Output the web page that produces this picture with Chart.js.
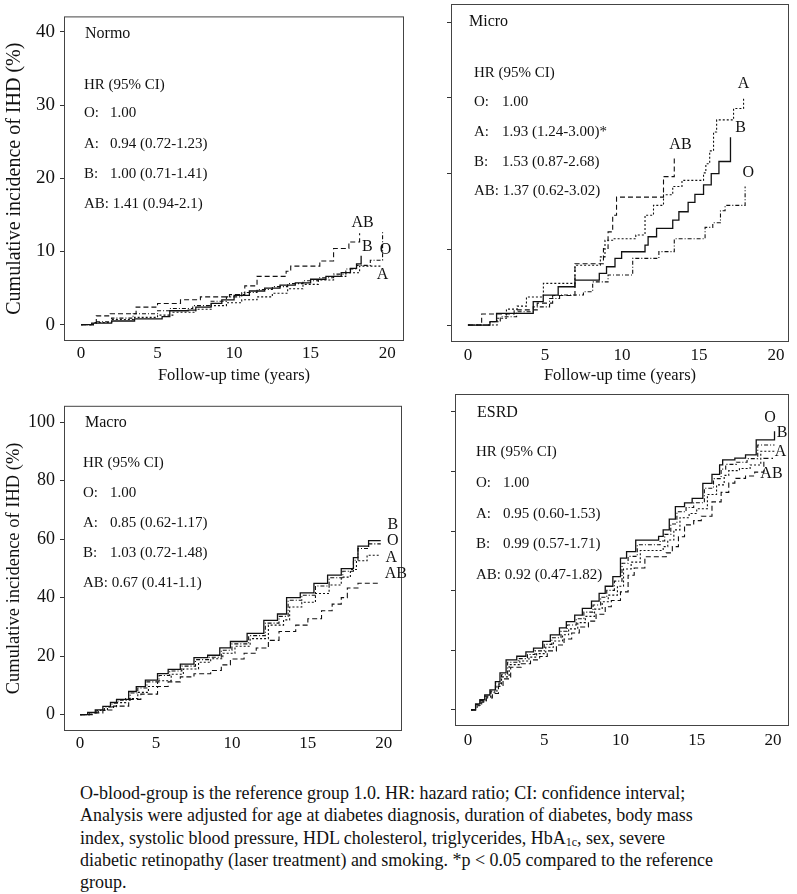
<!DOCTYPE html>
<html lang="en">
<head>
  <meta charset="UTF-8" />
  <title>Cumulative incidence of IHD by ABO blood group</title>
  <script src="https://cdn.jsdelivr.net/npm/chart.js@4"></script>
  <style>
    body { margin: 0; background: #fff; width: 797px; height: 894px; position: relative; overflow: hidden;
           font-family: "Liberation Serif", "Times New Roman", serif; color: #111; }
    canvas { position: absolute; }
    #note { position: absolute; left: 80px; top: 782px; font-size: 18px; line-height: 22.3px; white-space: nowrap; }
    #note sub { font-size: 12px; vertical-align: -2px; line-height: 0; }
  </style>
</head>
<body>

  <canvas id="normo" width="410" height="390" style="left:0;top:0"></canvas>
  <canvas id="micro" width="387" height="390" style="left:410px;top:0"></canvas>
  <canvas id="macro" width="410" height="380" style="left:0;top:390px"></canvas>
  <canvas id="esrd" width="387" height="380" style="left:410px;top:390px"></canvas>

  <div id="note">
    O-blood-group is the reference group 1.0. HR: hazard ratio; CI: confidence interval;<br>
    Analysis were adjusted for age at diabetes diagnosis, duration of diabetes, body mass<br>
    index, systolic blood pressure, HDL cholesterol, triglycerides, HbA<sub>1c</sub>, sex, severe<br>
    diabetic retinopathy (laser treatment) and smoking. *p &lt; 0.05 compared to the reference<br>
    group.
  </div>

  <script>
    // ticks
    const xTicks = [0, 5, 10, 15, 20];
    const yTicksLow = [0, 10, 20, 30, 40];
    const yTicksHigh = [0, 20, 40, 60, 80, 100];
    const groups = ["O", "A", "B", "AB"];

    // Normo - follow-up years / cumulative incidence (%)
    const normoO_t = [0, 0.9, 2.0, 3.4, 5.0, 5.8, 7.3, 8.5, 9.5, 10.5, 11.5, 12.5, 13.5, 14.5, 15.5, 16.5, 17.3, 18.0, 18.9, 19.7];
    const normoO_v = [0, 0.4, 0.9, 1.5, 1.9, 2.2, 2.6, 3.2, 3.8, 4.4, 4.8, 5.2, 5.6, 6.0, 6.4, 6.9, 7.6, 8.1, 8.8, 12.7];
    const normoA_t = [0, 0.8, 2.0, 3.5, 5.0, 6.0, 7.5, 8.5, 9.5, 10.5, 11.5, 12.5, 13.5, 14.5, 15.5, 16.5, 17.3, 18.2, 19.6];
    const normoA_v = [0, 0.3, 0.7, 1.0, 1.3, 1.7, 2.1, 2.6, 3.0, 3.4, 3.8, 4.3, 4.9, 5.5, 6.1, 6.6, 7.1, 8.0, 8.0];
    const normoB_t = [0, 0.7, 2.0, 3.5, 5.3, 5.8, 7.0, 7.5, 8.5, 9.2, 10.0, 11.0, 12.0, 13.0, 14.0, 15.0, 16.0, 17.0, 17.6, 18.0, 18.3];
    const normoB_v = [0, 0.2, 0.5, 0.8, 1.1, 1.9, 2.0, 2.4, 2.9, 3.4, 4.0, 4.6, 5.0, 5.4, 5.7, 6.2, 6.6, 7.1, 7.7, 8.3, 9.4];
    const normoAB_t = [0, 1.0, 1.9, 3.6, 5.0, 6.5, 7.8, 9.7, 10.7, 11.5, 13.4, 13.7, 15.6, 16.5, 17.5, 18.2];
    const normoAB_v = [0, 1.2, 1.5, 2.4, 2.9, 3.4, 3.8, 4.1, 5.3, 6.6, 7.3, 8.0, 8.7, 10.4, 11.3, 12.5];
    const normoHR = ["1.00", "0.94 (0.72-1.23)", "1.00 (0.71-1.41)", "1.41 (0.94-2.1)"];
    const normoLab = ["AB", "B", "O", "A"];
    const normoLabT = [18.4, 18.7, 19.9, 19.7];
    const normoLabV = [13.9, 10.6, 10.2, 6.8];

    // Micro
    const microO_t = [0, 1.43, 2.1, 3.16, 4.24, 5.3, 5.95, 7.5, 8.1, 9.1, 10.7, 12.4, 13.4, 15.4, 15.9, 16.4, 16.7, 18.0];
    const microO_v = [0, 0.44, 1.1, 1.76, 2.4, 3.5, 3.96, 4.4, 5.7, 6.6, 8.8, 9.7, 11.4, 12.9, 13.5, 15.1, 15.8, 18.3];
    const microA_t = [0, 1.9, 2.5, 3.2, 3.8, 4.9, 6.95, 8.6, 8.9, 9.45, 10.9, 11.5, 12.05, 12.7, 13.3, 13.9, 15.3, 15.45, 15.7, 15.95, 16.15, 17.25, 17.9];
    const microA_v = [0, 0.9, 2.1, 2.5, 3.7, 5.5, 7.9, 9.0, 11.2, 11.4, 11.9, 14.5, 15.8, 17.2, 18.3, 19.1, 20.1, 21.3, 23.0, 25.5, 27.1, 28.6, 29.9];
    const microB_t = [0, 1.43, 1.86, 4.24, 4.89, 5.86, 6.95, 8.53, 9.0, 9.55, 9.98, 11.5, 11.7, 12.25, 13.3, 13.7, 14.3, 14.74, 15.3, 15.8, 16.3, 17.05];
    const microB_v = [0, 0.44, 1.54, 3.08, 3.96, 5.06, 5.94, 6.82, 7.7, 8.8, 9.68, 10.56, 11.66, 12.76, 13.86, 14.96, 16.2, 17.25, 18.5, 20.0, 21.6, 24.8];
    const microAB_t = [0, 0.89, 3.0, 4.5, 5.5, 6.95, 8.8, 9.1, 9.4, 9.65, 12.7, 13.4];
    const microAB_v = [0, 1.45, 2.0, 2.9, 3.9, 8.1, 10.1, 12.3, 14.5, 16.9, 19.6, 22.0];
    const microHR = ["1.00", "1.93 (1.24-3.00)*", "1.53 (0.87-2.68)", "1.37 (0.62-3.02)"];
    const microLab = ["A", "B", "AB", "O"];
    const microLabT = [17.9, 17.7, 13.8, 18.2];
    const microLabV = [31.9, 26.1, 23.8, 20.1];

    // Macro
    const macroO_t = [0, 0.6, 1.1, 1.6, 2.1, 2.5, 3.3, 3.8, 4.4, 5.2, 5.9, 6.7, 7.6, 8.5, 9.3, 10.0, 11.1, 12.2, 13.1, 13.7, 14.6, 15.5, 16.4, 17.3, 18.0, 18.3, 19.0, 19.8];
    const macroO_v = [0, 0.7, 1.4, 2.6, 3.9, 4.9, 7.4, 9.1, 11.2, 13.4, 14.9, 16.6, 18.8, 19.6, 22.0, 24.2, 27.0, 31.3, 33.6, 39.1, 40.8, 44.0, 46.8, 49.0, 52.8, 56.8, 58.4, 58.4];
    const macroA_t = [0, 0.6, 1.2, 1.8, 2.4, 3.0, 3.8, 4.5, 5.1, 6.0, 6.8, 7.8, 8.6, 9.4, 10.2, 11.2, 12.4, 13.4, 13.8, 14.6, 15.5, 16.4, 17.2, 17.8, 18.2, 18.9, 19.8];
    const macroA_v = [0, 0.6, 1.5, 2.7, 4.1, 5.5, 7.6, 9.6, 11.6, 13.8, 15.6, 17.9, 19.1, 21.0, 23.4, 26.0, 30.6, 32.4, 36.8, 38.4, 41.4, 44.3, 47.0, 49.6, 52.6, 54.5, 54.5];
    const macroB_t = [0, 0.5, 1.0, 1.5, 2.0, 2.4, 3.2, 3.7, 4.3, 5.1, 5.8, 6.6, 7.5, 8.4, 9.2, 9.9, 11.0, 12.1, 13.0, 13.6, 14.5, 15.4, 16.3, 17.2, 18.0, 18.3, 19.0, 19.8];
    const macroB_v = [0, 0.8, 1.6, 2.8, 4.2, 5.2, 7.9, 9.6, 11.8, 14.0, 15.5, 17.3, 19.5, 20.3, 22.8, 25.0, 27.8, 32.2, 34.4, 40.0, 41.6, 44.9, 47.7, 49.9, 53.7, 57.6, 59.5, 59.5];
    const macroAB_t = [0, 0.8, 1.5, 2.2, 3.2, 4.0, 5.1, 5.8, 6.6, 7.5, 8.6, 9.3, 9.9, 10.8, 11.6, 12.4, 13.1, 14.2, 15.0, 15.9, 16.6, 17.2, 17.6, 18.3, 19.8];
    const macroAB_v = [0, 0.6, 1.6, 2.9, 5.2, 7.0, 9.6, 11.2, 12.9, 14.0, 15.1, 17.0, 19.0, 21.0, 22.8, 25.4, 28.4, 30.6, 32.8, 35.5, 37.8, 40.0, 43.3, 44.9, 44.9];
    const macroHR = ["1.00", "0.85 (0.62-1.17)", "1.03 (0.72-1.48)", "0.67 (0.41-1.1)"];
    const macroLab = ["B", "O", "A", "AB"];
    const macroLabT = [20.6, 20.6, 20.5, 20.8];
    const macroLabV = [64.8, 59.3, 53.7, 48.2];

    // ESRD
    const esrdO_t = [0.2, 0.5, 0.8, 1.1, 1.5, 1.8, 2.2, 2.6, 3.3, 3.9, 4.4, 5.0, 5.5, 6.1, 6.5, 7.1, 7.6, 8.2, 8.7, 9.1, 9.6, 10.1, 10.5, 11.1, 12.6, 12.9, 13.3, 13.7, 14.3, 14.8, 15.5, 16.1, 16.6, 16.9, 17.6, 18.3, 19.0, 20.1];
    const esrdO_v = [0, 1.8, 3.1, 4.6, 6.3, 9.0, 11.8, 16.0, 17.2, 18.6, 19.8, 22.0, 24.2, 26.4, 28.5, 30.6, 32.8, 35.2, 37.8, 40.1, 43.2, 49.2, 51.5, 55.4, 56.7, 58.9, 62.4, 66.5, 67.9, 69.5, 74.4, 77.6, 80.8, 82.4, 83.1, 84.3, 88.9, 88.9];
    const esrdA_t = [0.2, 0.5, 0.8, 1.2, 1.5, 1.9, 2.2, 2.7, 3.4, 4.0, 4.5, 5.1, 5.6, 6.2, 6.6, 7.2, 7.7, 8.3, 8.8, 9.2, 9.8, 10.2, 10.7, 11.3, 12.8, 13.1, 13.5, 13.9, 14.5, 15.0, 15.7, 16.3, 16.8, 17.1, 17.8, 18.5, 19.2, 20.1];
    const esrdA_v = [0, 1.6, 2.9, 4.3, 5.9, 8.4, 11.1, 15.2, 16.4, 17.7, 18.9, 21.0, 23.1, 25.2, 27.2, 29.3, 31.4, 33.8, 36.3, 38.5, 41.5, 47.3, 49.6, 53.5, 54.8, 57.0, 60.4, 64.5, 65.9, 67.5, 72.3, 75.5, 78.7, 80.3, 81.0, 82.2, 86.8, 86.8];
    const esrdB_t = [0.2, 0.5, 0.78, 1.1, 1.44, 1.8, 2.1, 2.5, 3.2, 3.8, 4.3, 4.9, 5.4, 6.0, 6.45, 7.0, 7.5, 8.1, 8.6, 9.0, 9.5, 10.0, 10.4, 11.0, 12.5, 12.8, 13.2, 13.6, 14.2, 14.7, 15.4, 16.0, 16.5, 16.7, 17.5, 18.2, 18.9, 20.1];
    const esrdB_v = [0, 2.0, 3.4, 5.0, 6.7, 9.5, 12.4, 16.8, 18.0, 19.5, 20.7, 23.0, 25.2, 27.5, 29.6, 31.8, 34.1, 36.5, 39.1, 41.5, 44.7, 50.9, 53.1, 57.0, 58.2, 60.4, 64.0, 68.2, 69.5, 71.0, 76.0, 79.0, 82.2, 83.9, 84.5, 85.6, 90.6, 93.5];
    const esrdAB_t = [0.2, 0.6, 0.9, 1.2, 1.6, 2.0, 2.3, 2.8, 3.5, 4.1, 4.7, 5.2, 5.8, 6.3, 6.8, 7.3, 7.9, 8.4, 9.0, 9.4, 10.0, 10.5, 10.9, 11.6, 13.0, 13.4, 13.8, 14.2, 14.8, 15.3, 16.0, 16.6, 17.1, 17.5, 18.2, 18.8, 19.4, 20.0];
    const esrdAB_v = [0, 1.4, 2.6, 4.0, 5.5, 7.9, 10.4, 14.3, 15.5, 16.8, 17.9, 19.8, 21.8, 23.8, 25.8, 27.8, 29.8, 32.1, 34.6, 36.7, 39.6, 45.2, 47.6, 51.4, 52.7, 54.8, 58.1, 62.1, 63.5, 65.0, 69.8, 73.0, 76.1, 77.7, 78.5, 79.8, 84.4, 84.4];
    const esrdHR = ["1.00", "0.95 (0.60-1.53)", "0.99 (0.57-1.71)", "0.92 (0.47-1.82)"];
    const esrdLab = ["O", "B", "A", "AB"];
    const esrdLabT = [19.8, 20.6, 20.5, 19.9];
    const esrdLabV = [98, 93, 86.6, 79.2];

    Chart.defaults.font.family = '"Liberation Serif", "Times New Roman", serif';
    Chart.defaults.color = "#111";

    const dashes = { O: [4, 2, 1, 2], A: [2, 2], B: [], AB: [5, 3] };
    const serif = '"Liberation Serif", "Times New Roman", serif';

    // box, panel caption, HR block and curve labels
    const panelText = {
      id: "panelText",
      afterDraw(chart, args, o) {
        const { ctx, chartArea: a } = chart;
        const xs = chart.scales.x, ys = chart.scales.y;
        ctx.save();
        ctx.strokeStyle = "#444";
        ctx.lineWidth = 1;
        ctx.strokeRect(a.left + 0.5, a.top + 0.5, a.right - a.left - 1, a.bottom - a.top - 1);
        ctx.fillStyle = "#111";
        ctx.textBaseline = "middle";
        ctx.textAlign = "left";
        ctx.font = "16px " + serif;
        ctx.fillText(o.title, a.left + o.titleX, a.top + o.rows[0]);
        ctx.font = "15px " + serif;
        ctx.fillText("HR (95% CI)", a.left + o.hrX, a.top + o.rows[1]);
        groups.forEach((g, i) => {
          const yy = a.top + o.rows[i + 2];
          if (g.length > 1) {
            // two-letter group: value follows the label directly
            ctx.fillText(g + ": " + o.hr[i], a.left + o.hrX, yy);
          } else {
            ctx.fillText(g + ":", a.left + o.hrX, yy);
            ctx.fillText(o.hr[i], a.left + o.valX, yy);
          }
        });
        ctx.font = "16px " + serif;
        ctx.textAlign = "center";
        o.lab.forEach((s, i) => {
          ctx.fillText(s, xs.getPixelForValue(o.labT[i]), ys.getPixelForValue(o.labV[i]));
        });
        ctx.restore();
      }
    };

    function makePanel(id, p) {
      const datasets = groups.map((g, i) => ({
        label: g,
        data: p.t[i].map((x, k) => ({ x: x, y: p.v[i][k] })),
        borderColor: "#111",
        borderWidth: g === "B" ? 1.3 : 1.1,
        borderDash: dashes[g],
        stepped: true,
        pointRadius: 0,
        fill: false
      }));

      new Chart(document.getElementById(id), {
        type: "line",
        data: { datasets },
        options: {
          responsive: false,
          animation: false,
          devicePixelRatio: 1,
          layout: { padding: p.pad },
          plugins: {
            legend: { display: false },
            tooltip: { enabled: false },
            panelText: { title: p.title, hr: p.hr, rows: p.rows, titleX: p.titleX, hrX: p.hrX, valX: p.valX,
                         lab: p.lab, labT: p.labT, labV: p.labV }
          },
          scales: {
            x: {
              type: "linear",
              min: p.xMin, max: p.xMax,
              afterBuildTicks: s => { s.ticks = xTicks.map(v => ({ value: v })); },
              afterFit: s => { s.height = p.xH; },
              grid: { display: false, drawTicks: false },
              border: { display: false },
              ticks: { font: { size: 17 }, padding: p.xPad, maxRotation: 0, autoSkip: false },
              title: { display: !!p.xTitle, text: p.xTitle || "", font: { size: 16.5 }, padding: { top: 0, bottom: 4 } }
            },
            y: {
              type: "linear",
              min: p.yMin, max: p.yMax,
              afterBuildTicks: s => { s.ticks = p.yTicks.map(v => ({ value: v })); },
              afterFit: s => { s.width = p.yW; },
              grid: { drawOnChartArea: false, drawTicks: true, tickLength: 4, color: "#333" },
              border: { display: false },
              ticks: { display: p.yLabels, font: { size: p.yFont }, padding: 5, autoSkip: false },
              title: { display: !!p.yTitle, text: p.yTitle || "", font: { size: p.yTitleFont }, padding: { top: 3, bottom: 0 } }
            }
          }
        },
        plugins: [panelText]
      });
    }

    const yTitle = "Cumulative incidence of IHD (%)";
    const xTitle = "Follow-up time (years)";

    makePanel("normo", {
      t: [normoO_t, normoA_t, normoB_t, normoAB_t], v: [normoO_v, normoA_v, normoB_v, normoAB_v],
      hr: normoHR, lab: normoLab, labT: normoLabT, labV: normoLabV, title: "Normo",
      pad: { left: 0, top: 3, right: 6, bottom: 0 }, yW: 64, xH: 49, xPad: 2,
      xMin: -1.11, xMax: 21.1, yMin: -2.23, yMax: 42.1, yTicks: yTicksLow, yLabels: true, yFont: 19,
      yTitle: yTitle, yTitleFont: 20, xTitle: xTitle,
      rows: [17, 69, 97, 128, 158, 188], titleX: 21, hrX: 20, valX: 46
    });

    makePanel("micro", {
      t: [microO_t, microA_t, microB_t, microAB_t], v: [microO_v, microA_v, microB_v, microAB_v],
      hr: microHR, lab: microLab, labT: microLabT, labV: microLabV, title: "Micro",
      pad: { left: 0, top: 4, right: 8, bottom: 0 }, yW: 41, xH: 48, xPad: 3,
      xMin: -1.1, xMax: 20.85, yMin: -2.24, yMax: 42.4, yTicks: yTicksLow, yLabels: false, yFont: 17,
      yTitle: null, yTitleFont: 18, xTitle: xTitle,
      rows: [18, 69, 98, 128, 158, 187], titleX: 18, hrX: 23, valX: 51
    });

    makePanel("macro", {
      t: [macroO_t, macroA_t, macroB_t, macroAB_t], v: [macroO_v, macroA_v, macroB_v, macroAB_v],
      hr: macroHR, lab: macroLab, labT: macroLabT, labV: macroLabV, title: "Macro",
      pad: { left: 0, top: 5, right: 8, bottom: 0 }, yW: 64, xH: 39, xPad: 2,
      xMin: -1.06, xMax: 21.2, yMin: -5.6, yMax: 105.6, yTicks: yTicksHigh, yLabels: true, yFont: 18,
      yTitle: yTitle, yTitleFont: 18.5, xTitle: null,
      rows: [17, 57, 87, 117, 147, 177], titleX: 21, hrX: 19, valX: 46
    });

    makePanel("esrd", {
      t: [esrdO_t, esrdA_t, esrdB_t, esrdAB_t], v: [esrdO_v, esrdA_v, esrdB_v, esrdAB_v],
      hr: esrdHR, lab: esrdLab, labT: esrdLabT, labV: esrdLabV, title: "ESRD",
      pad: { left: 0, top: 4, right: 8, bottom: 0 }, yW: 45, xH: 44, xPad: 4,
      xMin: -0.85, xMax: 21.05, yMin: -5.4, yMax: 106, yTicks: yTicksHigh, yLabels: false, yFont: 17,
      yTitle: null, yTitleFont: 18, xTitle: null,
      rows: [19, 58, 89, 120, 150, 181], titleX: 22, hrX: 21, valX: 48
    });
  </script>

</body>
</html>
